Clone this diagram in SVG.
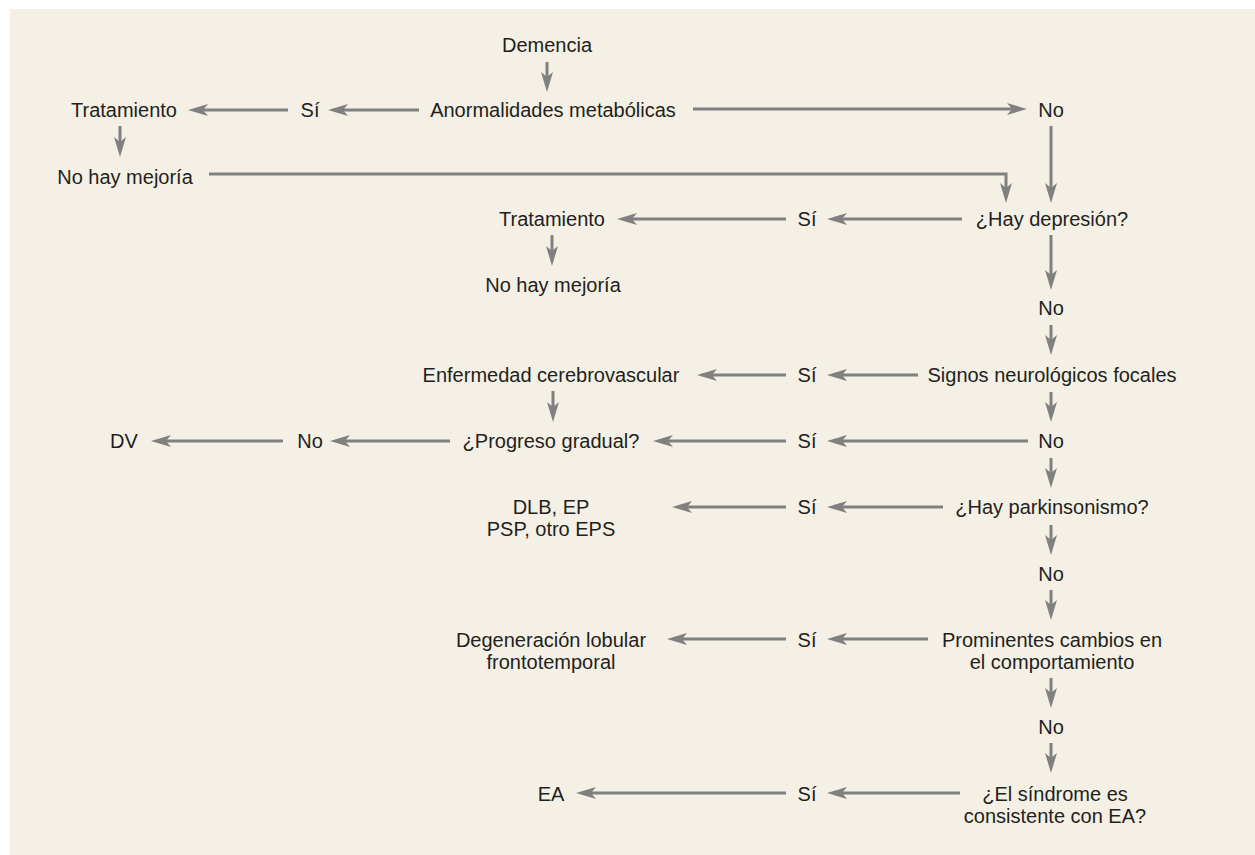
<svg xmlns="http://www.w3.org/2000/svg" width="1255" height="855" viewBox="0 0 1255 855">
<style>
.t{font-family:"Liberation Sans",Arial,sans-serif;font-size:20px;fill:#231f20;text-anchor:middle}
.c{stroke:#808080;stroke-width:3;fill:none;marker-end:url(#ah)}
</style>
<defs>
<marker id="ah" markerUnits="userSpaceOnUse" viewBox="0 0 20 12" refX="8" refY="6" markerWidth="20" markerHeight="12" orient="auto">
<path d="M0,0 L20,6 L0,12 L5,6 Z" fill="#808080"/>
</marker>
</defs>
<rect x="10" y="9" width="1245" height="846" fill="#f4f0e5"/>
<g id="connectors">
<path class="c" d="M547,62 V80"/>
<path class="c" d="M419,110 H340"/>
<path class="c" d="M288,110 H200"/>
<path class="c" d="M120,126 V145"/>
<path class="c" d="M693,109 H1015"/>
<path class="c" d="M1051,126 V191"/>
<path class="c" d="M209,174 H1006 V191"/>
<path class="c" d="M962,219 H839"/>
<path class="c" d="M786,219 H629"/>
<path class="c" d="M552,235 V254"/>
<path class="c" d="M1051,235 V278"/>
<path class="c" d="M1051,325 V343"/>
<path class="c" d="M918,375 H839"/>
<path class="c" d="M786,375 H709"/>
<path class="c" d="M1051,392 V410"/>
<path class="c" d="M553,391 V410"/>
<path class="c" d="M1028,441 H839"/>
<path class="c" d="M786,441 H665"/>
<path class="c" d="M450,441 H342"/>
<path class="c" d="M283,441 H163"/>
<path class="c" d="M1051,458 V476"/>
<path class="c" d="M943,507 H839"/>
<path class="c" d="M786,507 H684"/>
<path class="c" d="M1051,525 V543"/>
<path class="c" d="M1051,590 V608"/>
<path class="c" d="M928,639 H839"/>
<path class="c" d="M786,639 H679"/>
<path class="c" d="M1051,678 V696"/>
<path class="c" d="M1051,743 V761"/>
<path class="c" d="M960,793 H839"/>
<path class="c" d="M786,793 H588"/>
</g>
<g id="n-demencia"><text class="t" x="547" y="52">Demencia</text></g>
<g id="n-anormalidades"><text class="t" x="553" y="117">Anormalidades metabólicas</text></g>
<g id="n-si1"><text class="t" x="310" y="117">Sí</text></g>
<g id="n-tratamiento1"><text class="t" x="124" y="117">Tratamiento</text></g>
<g id="n-nomejoria1"><text class="t" x="125" y="184">No hay mejoría</text></g>
<g id="n-no1"><text class="t" x="1051" y="117">No</text></g>
<g id="n-depresion"><text class="t" x="1052" y="226">¿Hay depresión?</text></g>
<g id="n-si2"><text class="t" x="807" y="226">Sí</text></g>
<g id="n-tratamiento2"><text class="t" x="552" y="226">Tratamiento</text></g>
<g id="n-nomejoria2"><text class="t" x="553" y="292">No hay mejoría</text></g>
<g id="n-no2"><text class="t" x="1051" y="315">No</text></g>
<g id="n-signos"><text class="t" x="1052" y="382">Signos neurológicos focales</text></g>
<g id="n-si3"><text class="t" x="807" y="382">Sí</text></g>
<g id="n-cerebrovascular"><text class="t" x="551" y="382">Enfermedad cerebrovascular</text></g>
<g id="n-no3"><text class="t" x="1051" y="448">No</text></g>
<g id="n-si4"><text class="t" x="807" y="448">Sí</text></g>
<g id="n-progreso"><text class="t" x="551" y="448">¿Progreso gradual?</text></g>
<g id="n-no4"><text class="t" x="310" y="448">No</text></g>
<g id="n-dv"><text class="t" x="124" y="448">DV</text></g>
<g id="n-parkinsonismo"><text class="t" x="1052" y="514">¿Hay parkinsonismo?</text></g>
<g id="n-si5"><text class="t" x="807" y="514">Sí</text></g>
<g id="n-dlb"><text class="t" x="551" y="514">DLB, EP</text><text class="t" x="551" y="536">PSP, otro EPS</text></g>
<g id="n-no5"><text class="t" x="1051" y="581">No</text></g>
<g id="n-prominentes"><text class="t" x="1052" y="647">Prominentes cambios en</text><text class="t" x="1052" y="669">el comportamiento</text></g>
<g id="n-si6"><text class="t" x="807" y="647">Sí</text></g>
<g id="n-degeneracion"><text class="t" x="551" y="647">Degeneración lobular</text><text class="t" x="551" y="669">frontotemporal</text></g>
<g id="n-no6"><text class="t" x="1051" y="734">No</text></g>
<g id="n-sindrome"><text class="t" x="1055" y="801">¿El síndrome es</text><text class="t" x="1055" y="823">consistente con EA?</text></g>
<g id="n-si7"><text class="t" x="807" y="801">Sí</text></g>
<g id="n-ea"><text class="t" x="551" y="801">EA</text></g>
</svg>
